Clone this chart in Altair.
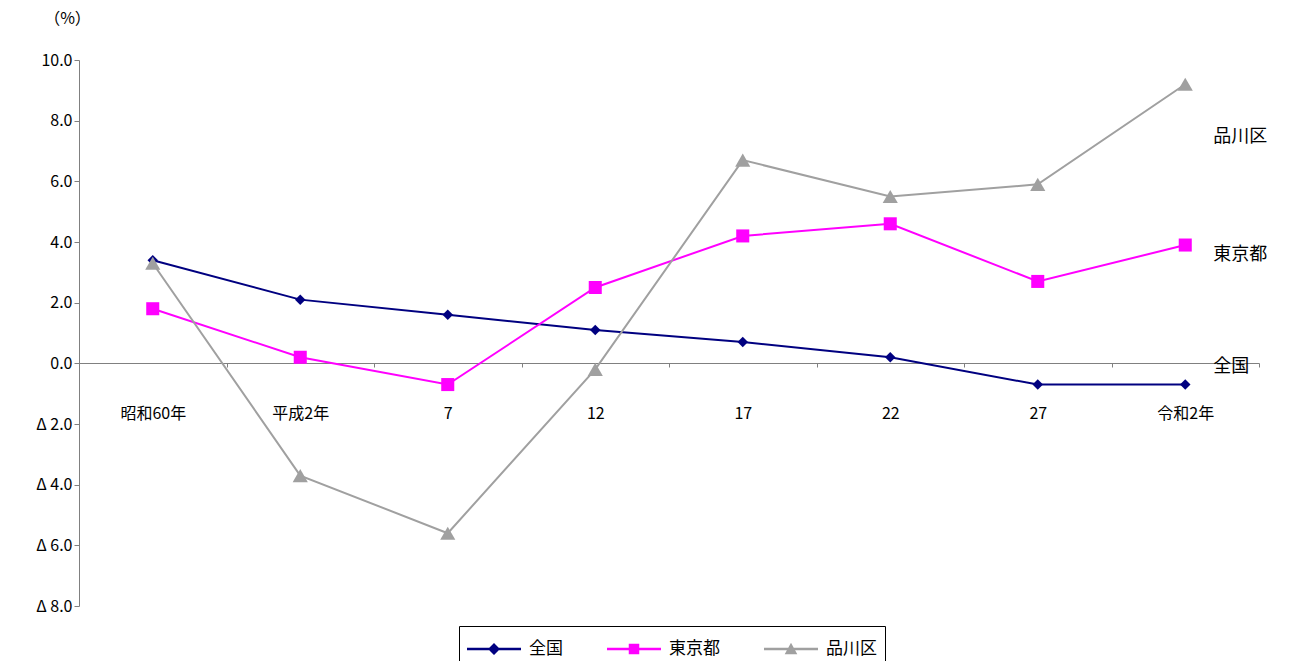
import altair as alt
import pandas as pd

years = ["昭和60年", "平成2年", "7", "12", "17", "22", "27", "令和2年"]
zenkoku = [3.4, 2.1, 1.6, 1.1, 0.7, 0.2, -0.7, -0.7]
tokyo = [1.8, 0.2, -0.7, 2.5, 4.2, 4.6, 2.7, 3.9]
shinagawa = [3.3, -3.7, -5.6, -0.2, 6.7, 5.5, 5.9, 9.2]
series = ["全国", "東京都", "品川区"]
colors = ["#000080", "#FF00FF", "#A0A0A0"]
shapes = ["diamond", "square", "triangle-up"]
sizes = [110, 230, 230]
label_y = [-0.13, 3.56, 7.45]

rows = []
for name, vals in zip(series, [zenkoku, tokyo, shinagawa]):
    for y, v in zip(years, vals):
        rows.append({"year": y, "series": name, "value": v})
df = pd.DataFrame(rows)
labels = pd.DataFrame({"series": series, "year": years[-1], "value": label_y})

FONT = "Noto Sans CJK JP"
x = alt.X("year:N", sort=years, title=None,
          scale=alt.Scale(paddingInner=0, paddingOuter=0),
          axis=alt.Axis(offset=-243, labelPadding=38, labelAngle=0, tickBand="extent",
                        tickSize=4, tickColor="#808080", domainColor="#808080",
                        labelFontSize=16, labelFont=FONT, labelColor="black"))
y = alt.Y("value:Q", scale=alt.Scale(domain=[-8, 10]), title="（%）",
          axis=alt.Axis(values=[-8, -6, -4, -2, 0, 2, 4, 6, 8, 10], grid=False,
                        labelExpr="datum.value < 0 ? 'Δ ' + format(-datum.value, '.1f') : format(datum.value, '.1f')",
                        tickSize=5, tickColor="#808080", domainColor="#808080",
                        labelFontSize=16, labelFont=FONT, labelColor="black",
                        titleAngle=0, titleAlign="center", titleX=-12, titleY=-34,
                        titleFontSize=16, titleFont=FONT, titleFontWeight="normal"))
cscale = alt.Scale(domain=series, range=colors)

# legend symbols: line segment with the marker, shifted right of the symbol origin
bar = "M-1,-0.08H2.6V0.08H-1Z "
legend_shapes = [bar + "M0.8,-0.4L1.2,0L0.8,0.4L0.4,0Z",
                 bar + "M0.45,-0.35H1.15V0.35H0.45Z",
                 bar + "M0.8,-0.42L1.22,0.35H0.38Z"]
leg = dict(title=None, orient="none", legendX=380, legendY=566, direction="horizontal",
           symbolSize=900, labelFontSize=17, labelFont=FONT, strokeColor="black",
           padding=8, labelOffset=32, columnPadding=44, symbolStrokeWidth=0, symbolOpacity=1)

lines = alt.Chart(df).mark_line(strokeWidth=2).encode(
    x=x, y=y, color=alt.Color("series:N", scale=cscale, legend=None), detail="series:N")
points = alt.Chart(df).mark_point(filled=True, opacity=1).encode(
    x=x, y=y,
    color=alt.Color("series:N", scale=cscale, legend=None),
    shape=alt.Shape("series:N", scale=alt.Scale(domain=series, range=shapes), legend=None),
    size=alt.Size("series:N", scale=alt.Scale(domain=series, range=sizes), legend=None))
legend_layer = alt.Chart(df).mark_point(filled=True, opacity=0).encode(
    x=x, y=y,
    color=alt.Color("series:N", scale=cscale, legend=alt.Legend(**leg)),
    shape=alt.Shape("series:N", scale=alt.Scale(domain=series, range=legend_shapes), legend=alt.Legend(**leg)))
text = alt.Chart(labels).mark_text(align="left", dx=28, fontSize=18, font=FONT, color="black").encode(
    x=alt.X("year:N", sort=years), y=alt.Y("value:Q"), text="series:N")

chart = (alt.layer(lines, points, text, legend_layer)
         .resolve_scale(shape="independent", color="independent")
         .properties(width=1180, height=546, padding={"left": 27, "top": 2, "right": 5, "bottom": 5})
         .configure_view(stroke=None))
chart.save("out.html", embed_options={"renderer": "svg", "actions": False})
